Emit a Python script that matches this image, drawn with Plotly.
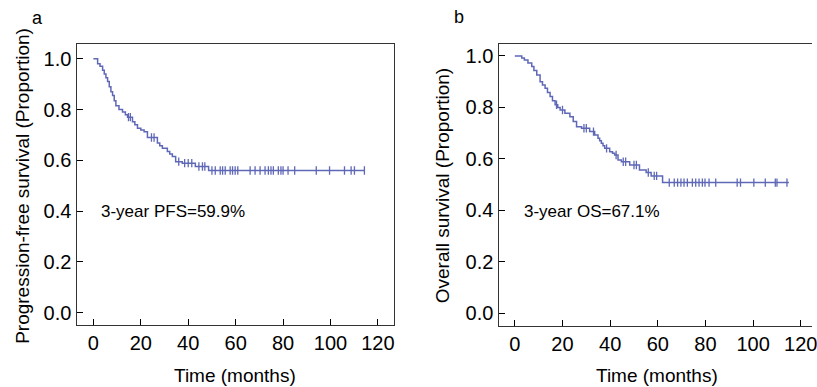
import plotly.graph_objects as go
import numpy as np

# ---------------- data ----------------
pfs_time = [0, 1.8, 2.8, 3.9, 4.6, 5.3, 6.0, 6.7, 7.4, 8.1, 8.8, 9.5, 10.8, 12.3, 13.5, 14.4,
            16.5, 17.5, 18.6, 20.0, 21.4, 22.8, 27.0, 28.0, 29.1, 31.2, 32.2, 33.3, 34.7,
            37.5, 43.0, 48.6, 114.3]
pfs_surv = [1.0, 0.98, 0.97, 0.955, 0.94, 0.925, 0.91, 0.89, 0.87, 0.855, 0.835, 0.815, 0.80,
            0.79, 0.78, 0.77, 0.752, 0.74, 0.726, 0.72, 0.713, 0.69, 0.668, 0.658, 0.648, 0.635,
            0.625, 0.615, 0.595, 0.589, 0.576, 0.56, 0.56]
pfs_censor = [14.8, 15.6, 24.5, 25.6, 36.0, 38.5, 40.0, 41.5, 44.5, 46.0, 47.0,
              50.0, 51.4, 53.5, 54.5, 55.6, 57.7, 58.7, 59.8, 60.9, 66.1, 68.2, 70.3, 72.4,
              73.8, 74.9, 75.9, 78.0, 79.1, 80.0, 82.1, 84.9, 94.0, 99.6, 105.9, 108.7,
              110.1, 114.3]

os_time = [0, 2.9, 4.0, 5.5, 7.1, 8.0, 9.2, 10.6, 11.6, 12.7, 13.7, 14.8, 15.8, 16.9, 18.0,
           19.0, 21.0, 23.1, 24.5, 25.9, 28.0, 31.4, 33.5, 34.9, 35.6, 36.3, 37.0, 37.7, 39.8,
           41.0, 41.9, 43.3, 44.7, 48.2, 52.3, 55.1, 57.2, 62.0, 115.0]
os_surv = [1.0, 0.992, 0.984, 0.972, 0.959, 0.943, 0.926, 0.90, 0.887, 0.874, 0.858, 0.842,
           0.826, 0.81, 0.80, 0.79, 0.777, 0.764, 0.745, 0.725, 0.719, 0.706, 0.693, 0.68,
           0.67, 0.661, 0.651, 0.641, 0.628, 0.622, 0.615, 0.596, 0.589, 0.576, 0.557, 0.547,
           0.534, 0.508, 0.508]
os_censor = [17.5, 20.0, 29.0, 30.0, 33.0, 38.5, 42.5, 45.5, 46.5, 50.0, 51.0, 56.0, 58.5,
             59.5, 64.8, 66.9, 68.3, 69.7, 71.0, 72.4, 74.5, 75.9, 77.3, 78.7, 79.8, 81.5,
             84.3, 93.3, 94.7, 100.3, 105.1, 109.3, 110.0, 114.2]

x_ticks = [0, 20, 40, 60, 80, 100, 120]
y_ticks = [0.0, 0.2, 0.4, 0.6, 0.8, 1.0]
y_ticktext = ["0.0", "0.2", "0.4", "0.6", "0.8", "1.0"]

panel_a = dict(label="a", ytitle="Progression-free survival (Proportion)",
               note="3-year PFS=59.9%")
panel_b = dict(label="b", ytitle="Overall survival (Proportion)",
               note="3-year OS=67.1%")
xtitle = "Time (months)"

# ---------------- style ----------------
CURVE = "#5f68b6"
FRAME = "#333333"
FONT = "Liberation Sans, Arial, Helvetica, sans-serif"
W, H = 817, 387


def step_value(times, surv, t):
    idx = np.searchsorted(np.array(times), t, side="right") - 1
    return surv[max(idx, 0)]


fig = go.Figure()
for times, surv, cens, xa, ya in [(pfs_time, pfs_surv, pfs_censor, "x", "y"),
                                  (os_time, os_surv, os_censor, "x2", "y2")]:
    fig.add_trace(go.Scatter(x=times, y=surv, mode="lines", line_shape="hv",
                             line=dict(color=CURVE, width=1.5), xaxis=xa, yaxis=ya,
                             showlegend=False, hoverinfo="skip"))
    fig.add_trace(go.Scatter(x=cens, y=[step_value(times, surv, c) for c in cens],
                             mode="markers", xaxis=xa, yaxis=ya, showlegend=False,
                             marker=dict(symbol="line-ns", size=6,
                                         line=dict(color=CURVE, width=1.3))))

axis_common = dict(showline=True, linecolor=FRAME, linewidth=1.4, ticks="inside",
                   ticklen=6, tickwidth=1.4, tickcolor="black", showgrid=False,
                   zeroline=False, ticklabeloverflow="allow",
                   tickfont=dict(family=FONT, size=20, color="black"))

def px_x(p):
    return p / W

def px_y(p):
    return 1 - p / H

fig.update_layout(
    width=W, height=H, margin=dict(l=0, r=0, t=0, b=0),
    paper_bgcolor="white", plot_bgcolor="white",
    xaxis=dict(domain=[px_x(77), px_x(396)], range=[-7.1, 126.6], mirror=True,
               tickvals=x_ticks, anchor="y", **axis_common),
    yaxis=dict(domain=[px_y(325), px_y(44)], range=[-0.048, 1.058], mirror=True,
               tickvals=y_ticks, ticktext=y_ticktext, anchor="x", **axis_common),
    xaxis2=dict(domain=[px_x(501.7), 1.0], range=[-6.8, 124.7], mirror=True,
                tickvals=x_ticks, anchor="y2", **axis_common),
    yaxis2=dict(domain=[px_y(326), px_y(44.3)], range=[-0.049, 1.045], mirror=False,
                tickvals=y_ticks, ticktext=y_ticktext, anchor="x2", **axis_common),
)

ann = []
for p, xa, ya, lx, ly, ty_x, ty_y, xt_x in [
        (panel_a, "x", "y", 38, 18, 22, 186, 236),
        (panel_b, "x2", "y2", 462, 17, 445, 186, 661)]:
    ann.append(dict(text=p["label"], x=px_x(lx), y=px_y(ly), xref="paper", yref="paper",
                    showarrow=False, font=dict(family=FONT, size=18, color="black"),
                    xanchor="center", yanchor="middle"))
    ann.append(dict(text=p["ytitle"], x=px_x(ty_x), y=px_y(ty_y), xref="paper", yref="paper",
                    showarrow=False, textangle=-90,
                    font=dict(family=FONT, size=19, color="black"),
                    xanchor="center", yanchor="middle"))
    ann.append(dict(text=xtitle, x=px_x(xt_x), y=px_y(375), xref="paper", yref="paper",
                    showarrow=False, font=dict(family=FONT, size=19, color="black"),
                    xanchor="center", yanchor="middle"))
ann.append(dict(text=panel_a["note"], x=2.5, y=0.397, xref="x", yref="y", showarrow=False,
                xanchor="left", yanchor="middle", font=dict(family=FONT, size=17, color="black")))
ann.append(dict(text=panel_b["note"], x=2.9, y=0.395, xref="x2", yref="y2", showarrow=False,
                xanchor="left", yanchor="middle", font=dict(family=FONT, size=17, color="black")))
fig.update_layout(annotations=ann)

fig.write_html("out.html")
